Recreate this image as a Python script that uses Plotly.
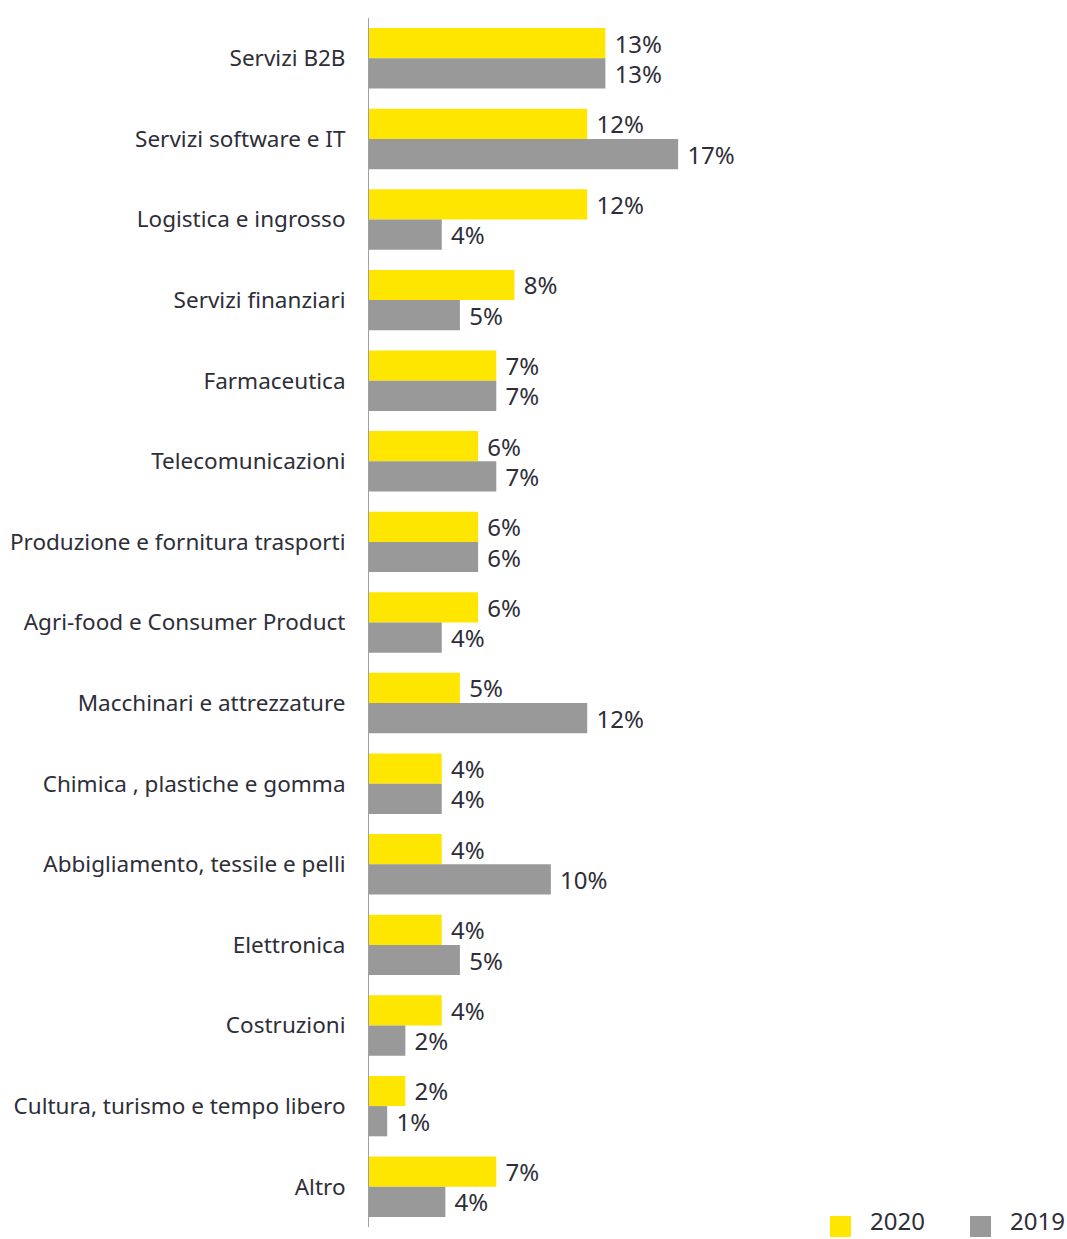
import plotly.graph_objects as go

categories = [
    "Servizi B2B", "Servizi software e IT", "Logistica e ingrosso", "Servizi finanziari",
    "Farmaceutica", "Telecomunicazioni", "Produzione e fornitura trasporti",
    "Agri-food e Consumer Product", "Macchinari e attrezzature", "Chimica , plastiche e gomma",
    "Abbigliamento, tessile e pelli", "Elettronica", "Costruzioni",
    "Cultura, turismo e tempo libero", "Altro",
]
values_2020 = [13, 12, 12, 8, 7, 6, 6, 6, 5, 4, 4, 4, 4, 2, 7]
values_2019 = [13, 17, 4, 5, 7, 7, 6, 4, 12, 4, 10, 5, 2, 1, 4.2]
series_names = ["2020", "2019"]
colors = ["#FFE600", "#999999"]

TEXT = "#2e2e38"
FONT = "Noto Sans"

W, H = 1067, 1239
ML, MR, MT, MB = 369, 7, 18, 12
PW, PH = W - ML - MR, H - MT - MB


def px_x(p):
    return (p - ML) / PW


def px_y(p):
    return (H - MB - p) / PH


fig = go.Figure()
for name, vals, col in zip(series_names, [values_2020, values_2019], colors):
    fig.add_trace(go.Bar(
        y=categories, x=vals, orientation="h", name=name,
        marker=dict(color=col, line=dict(width=0)),
        texttemplate=" %{x:.0f}%", textposition="outside", cliponaxis=False,
        constraintext="none",
        textfont=dict(family=FONT, size=24, color=TEXT),
        showlegend=False, hoverinfo="skip",
    ))

# manual legend (bottom right)
legend_left = [830, 970]
shapes = []
annotations = []
for name, col, lx in zip(series_names, colors, legend_left):
    shapes.append(dict(
        type="rect", xref="paper", yref="paper",
        x0=px_x(lx), x1=px_x(lx + 21), y0=px_y(1237), y1=px_y(1216),
        fillcolor=col, line=dict(width=0),
    ))
    annotations.append(dict(
        text=name, xref="paper", yref="paper", showarrow=False,
        x=px_x(lx + 38), y=px_y(1239), xanchor="left", yanchor="bottom",
        font=dict(family=FONT, size=24, color=TEXT),
    ))

fig.update_layout(
    width=W, height=H,
    margin=dict(l=ML, r=MR, t=MT, b=MB, autoexpand=False),
    plot_bgcolor="white", paper_bgcolor="white",
    barmode="group", bargap=0.25, bargroupgap=0,
    font=dict(family=FONT, size=22.5, color=TEXT),
    showlegend=False,
    shapes=shapes, annotations=annotations,
    xaxis=dict(range=[0, 38], visible=False, showgrid=False, zeroline=False),
    yaxis=dict(
        autorange="reversed", showline=True, linecolor="#a0a0a0", linewidth=1,
        ticks="", showgrid=False, ticklabelstandoff=18, automargin=False,
        tickfont=dict(family=FONT, size=22.5, color=TEXT),
    ),
)

fig.write_html("out.html")
